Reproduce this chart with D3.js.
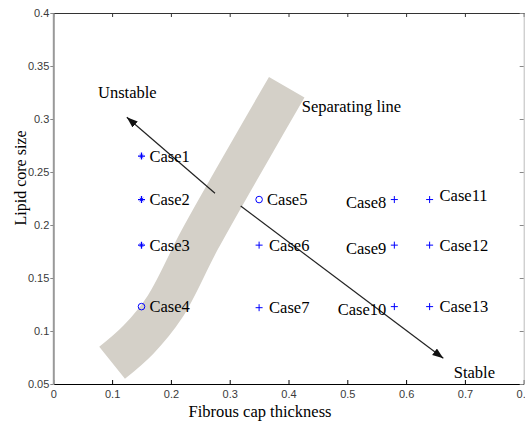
<!DOCTYPE html>
<html>
<head>
<meta charset="utf-8">
<script src="https://cdn.jsdelivr.net/npm/d3@7"></script>
<style>
  html, body { margin: 0; padding: 0; background: #fff; }
  svg { display: block; }
  .serif { font-family: "Liberation Serif", "Times New Roman", serif; fill: #000; }
  .tick text { font-family: "Liberation Sans", Arial, sans-serif; font-size: 11px; fill: #3a3a3a; }
</style>
</head>
<body>
<svg id="chart" width="525" height="422"></svg>
<script>
// Plaque cases: fibrous cap thickness vs lipid core size
const caseNames = ["Case1","Case2","Case3","Case4","Case5","Case6","Case7",
                   "Case8","Case9","Case10","Case11","Case12","Case13"];
const capThickness = [0.15, 0.15, 0.15, 0.15, 0.35, 0.35, 0.35,
                      0.58, 0.58, 0.58, 0.64, 0.64, 0.64];
const lipidCore = [0.265, 0.224, 0.181, 0.123, 0.224, 0.181, 0.122,
                   0.224, 0.181, 0.123, 0.224, 0.181, 0.123];
const markerKind = ["star","star","star","circle","circle","plus","plus",
                    "plus","plus","plus","plus","plus","plus"];
const labelSide = ["right","right","right","right","right","right","right",
                   "left","left","left","right","right","right"];

const xTicks = [0, 0.1, 0.2, 0.3, 0.4, 0.5, 0.6, 0.7, 0.8];
const xTickLabels = ["0","0.1","0.2","0.3","0.4","0.5","0.6","0.7","0.8"];
const yTicks = [0.05, 0.1, 0.15, 0.2, 0.25, 0.3, 0.35, 0.4];
const yTickLabels = ["0.05","0.1","0.15","0.2","0.25","0.3","0.35","0.4"];

// centre line of the separating band (data units)
const bandX = [0.397, 0.345, 0.249, 0.190, 0.145, 0.100];
const bandY = [0.330, 0.280, 0.186, 0.123, 0.092, 0.070];

// direction arrows: [fromX, fromY, toX, toY]
const unstableArrow = [0.275, 0.230, 0.125, 0.3016];
const stableArrow = [0.3187, 0.2179, 0.6633, 0.0742];

const svg = d3.select("#chart");
const x = d3.scaleLinear().domain([0, 0.8]).range([53.3, 523.7]);
const y = d3.scaleLinear().domain([0.05, 0.4]).range([384, 13]);

// separating band
const band = d3.range(bandX.length).map(i => [bandX[i], bandY[i]]);
svg.append("path")
  .attr("d", d3.line().x(d => x(d[0])).y(d => y(d[1])).curve(d3.curveCatmullRom)(band))
  .attr("fill", "none")
  .attr("stroke", "#d4d0c8")
  .attr("stroke-width", 41)
  .attr("stroke-linecap", "butt");

// axes
const fmtX = d => xTickLabels[xTicks.indexOf(d)];
const fmtY = d => yTickLabels[yTicks.indexOf(d)];

const gB = svg.append("g").attr("transform", `translate(0,${y(0.05)})`)
  .call(d3.axisBottom(x).tickValues(xTicks).tickFormat(fmtX).tickSizeInner(-4).tickSizeOuter(0).tickPadding(6));
gB.select(".domain").attr("stroke", "#000");
gB.selectAll(".tick line").attr("stroke", "#000");

const gT = svg.append("g").attr("transform", `translate(0,${y(0.4)})`)
  .call(d3.axisTop(x).tickValues(xTicks).tickFormat("").tickSizeInner(-4).tickSizeOuter(0));
gT.select(".domain").attr("stroke", "#333");
gT.selectAll(".tick line").attr("stroke", "#333");

const gL = svg.append("g").attr("transform", `translate(${x(0)},0)`)
  .call(d3.axisLeft(y).tickValues(yTicks).tickFormat(fmtY).tickSizeInner(3).tickSizeOuter(0).tickPadding(1));
gL.select(".domain").attr("stroke", "#999").attr("stroke-width", 2);
gL.selectAll(".tick line").attr("stroke", "#888");

const gR = svg.append("g").attr("transform", `translate(${x(0.8)},0)`)
  .call(d3.axisRight(y).tickValues(yTicks).tickFormat("").tickSizeInner(-4).tickSizeOuter(0));
gR.select(".domain").attr("stroke", "#bbb");
gR.selectAll(".tick line").attr("stroke", "#888");

// arrowhead
svg.append("defs").append("marker")
  .attr("id", "head")
  .attr("markerUnits", "userSpaceOnUse")
  .attr("markerWidth", 12).attr("markerHeight", 10)
  .attr("refX", 11).attr("refY", 4)
  .attr("orient", "auto")
  .append("path").attr("d", "M0,0L11,4L0,8Z").attr("fill", "#111");

[unstableArrow, stableArrow].forEach(a => {
  svg.append("line")
    .attr("x1", x(a[0])).attr("y1", y(a[1]))
    .attr("x2", x(a[2])).attr("y2", y(a[3]))
    .attr("stroke", "#222").attr("stroke-width", 1.2)
    .attr("marker-end", "url(#head)");
});

// markers
const blue = "#0000ff";
const pts = svg.append("g");
caseNames.forEach((name, i) => {
  const px = x(capThickness[i]), py = y(lipidCore[i]);
  const g = pts.append("g").attr("transform", `translate(${px},${py})`);
  if (markerKind[i] === "circle") {
    g.append("circle").attr("r", 3.3).attr("fill", "none").attr("stroke", blue).attr("stroke-width", 1);
  } else if (markerKind[i] === "star") {
    g.append("path").attr("d", "M-3.5,0H3.5M0,-3.5V3.5").attr("stroke", blue).attr("stroke-width", 1.3);
    g.append("path").attr("d", "M-1.8,-1.8L1.8,1.8M-1.8,1.8L1.8,-1.8").attr("stroke", blue).attr("stroke-width", 0.8);
  } else {
    g.append("path").attr("d", "M-3.5,0H3.5M0,-3.5V3.5").attr("stroke", blue).attr("stroke-width", 1);
  }
  const right = labelSide[i] === "right";
  const lift = name === "Case11" ? -4 : (right ? 0 : 3);
  pts.append("text").attr("class", "serif")
    .attr("x", px + (right ? (markerKind[i] === "plus" ? 10 : 8) : -8))
    .attr("y", py + 5.5 + lift)
    .attr("text-anchor", right ? "start" : "end")
    .attr("font-size", "16.5px")
    .text(name);
});

// annotations
const notes = [
  ["Unstable", 0.076, 0.3198],
  ["Separating line", 0.4225, 0.307],
  ["Stable", 0.681, 0.0557]
];
notes.forEach(n => {
  svg.append("text").attr("class", "serif")
    .attr("x", x(n[1])).attr("y", y(n[2]))
    .attr("font-size", "16.5px")
    .text(n[0]);
});

// axis titles
svg.append("text").attr("class", "serif")
  .attr("x", 260).attr("y", 417)
  .attr("text-anchor", "middle")
  .attr("font-size", "16.5px")
  .text("Fibrous cap thickness");
svg.append("text").attr("class", "serif")
  .attr("transform", "translate(26,178) rotate(-90)")
  .attr("text-anchor", "middle")
  .attr("font-size", "16px")
  .text("Lipid core size");
</script>
</body>
</html>
